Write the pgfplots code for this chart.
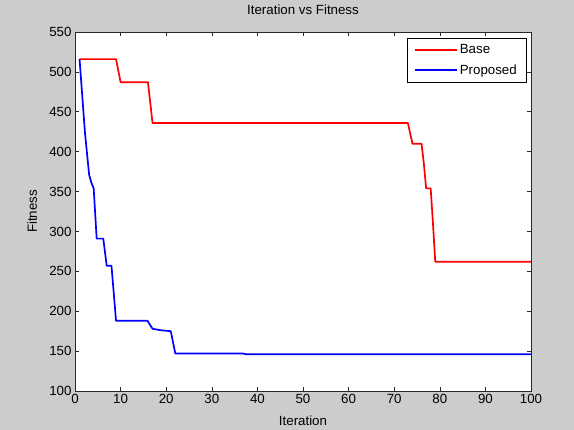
\documentclass[border=0pt]{standalone}
\usepackage{pgfplots}
\pgfplotsset{compat=1.18}
\usepackage{fontspec}
\setmainfont{Liberation Sans}
\definecolor{figgray}{RGB}{204,204,204}
\definecolor{axgray}{RGB}{40,40,40}
\pgfplotsset{
  longline/.style={legend image code/.code={%
    \draw[##1, line width=1.8bp] (0bp,0bp) -- (42bp,0bp);}},
}
\begin{document}
\begin{tikzpicture}
\fill[figgray] (0,0) rectangle (574bp,430bp);
\begin{axis}[
  at={(75bp,39bp)}, anchor=south west,
  width=456bp, height=359bp, scale only axis,
  xmin=0, xmax=100, ymin=100, ymax=550,
  xtick={0,10,...,100}, ytick={100,150,...,550},
  axis background/.style={fill=white},
  axis line style={axgray},
  major tick style={axgray, line width=0.6bp},
  major tick length=4bp,
  font=\fontsize{13.3bp}{15bp}\selectfont,
  /pgf/number format/assume math mode=true,
  tick label style={text=black},
  title={Iteration vs Fitness},
  title style={at={(axis description cs:0.5,1.0465)}, anchor=center},
  xlabel={Iteration},
  ylabel={Fitness},
  xlabel style={at={(axis description cs:0.5,-0.0836)}, anchor=center},
  ylabel style={at={(axis description cs:-0.0943,0.5)}, anchor=center},
  legend style={at={(0.989,0.984)}, anchor=north east,
    font=\fontsize{13.3bp}{15bp}\selectfont,
    row sep=5.5bp, inner xsep=7bp, inner ysep=4.5bp},
  legend cell align=left,
]
\addplot[red, line width=1.7bp, line join=round, longline] coordinates {
  (1,516) (9,516) (10,487) (16,487) (17,436) (73,436) (74,410) (76,410)
  (76.5,385) (77,354) (78,354) (78.5,310) (79,262) (100,262)
};
\addlegendentry{Base}
\addplot[blue, line width=1.7bp, line join=round, longline] coordinates {
  (1,516) (1.5,477) (2.2,423) (3.1,371) (3.6,361) (4.1,354) (4.75,291)
  (6.2,291) (6.95,257) (8,257) (9,188) (15.9,188) (17,178) (19,176)
  (21,175) (22,147) (36.8,147) (37.5,146) (100,146)
};
\addlegendentry{Proposed}
\end{axis}
\end{tikzpicture}
\end{document}
